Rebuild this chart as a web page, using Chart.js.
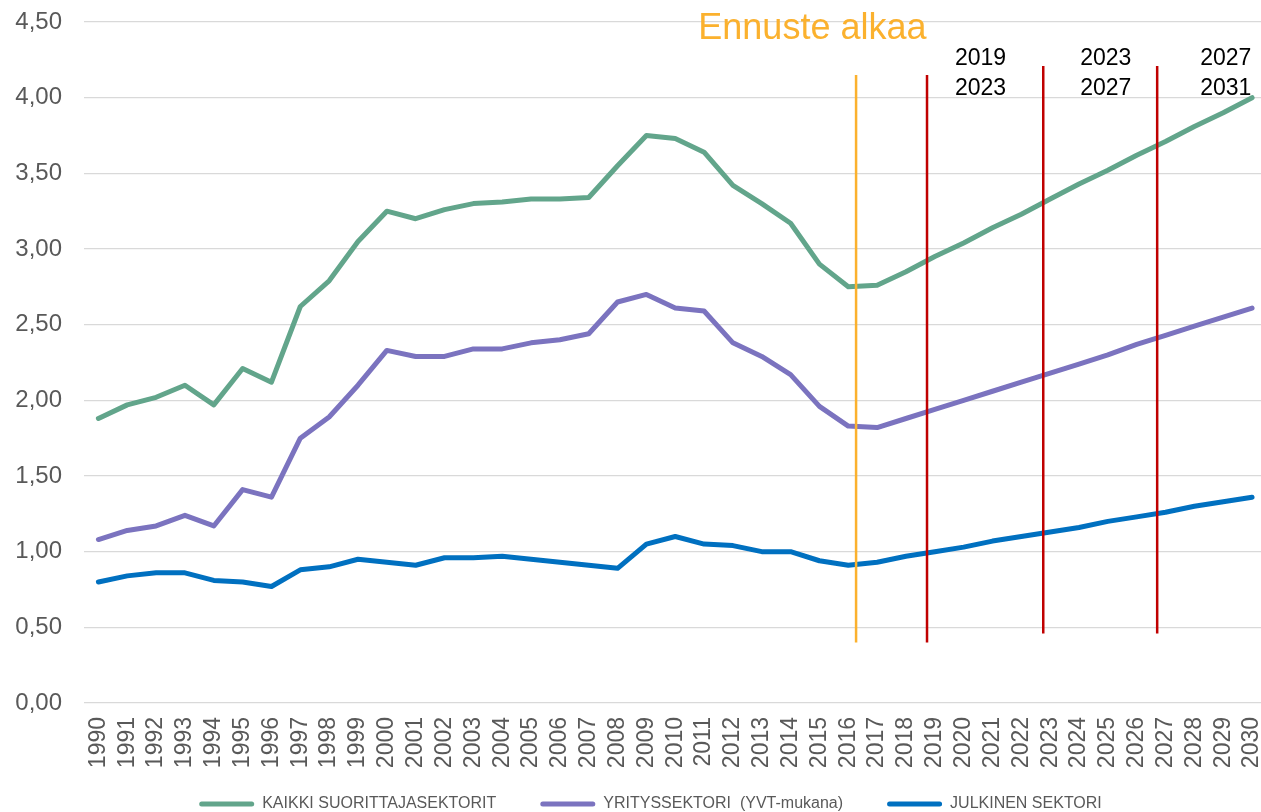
<!DOCTYPE html>
<html lang="fi">
<head>
<meta charset="utf-8">
<title>T&K-menot</title>
<script src="https://cdn.jsdelivr.net/npm/chart.js@4.4.1/dist/chart.umd.min.js"></script>
<style>
    html, body { margin: 0; padding: 0; background: #ffffff; }
    #wrap { width: 1261px; height: 812px; position: relative; }
</style>
</head>
<body>
<div id="wrap"><canvas id="rdChart"></canvas></div>
<script>
// Vuodet (x-akseli)
const years = [];
for (let y = 1990; y <= 2030; y++) years.push(y);

// Sarjat, luettu kuvasta
const kaikkiSektorit = [
    1.88, 1.97, 2.02, 2.10, 1.97, 2.21, 2.12, 2.62, 2.79, 3.05,
    3.25, 3.20, 3.26, 3.30, 3.31, 3.33, 3.33, 3.34, 3.55, 3.75,
    3.73, 3.64, 3.42, 3.30, 3.17, 2.90, 2.75, 2.76, 2.85, 2.95,
    3.04, 3.14, 3.23, 3.33, 3.43, 3.52, 3.62, 3.71, 3.81, 3.90,
    4.00
];
const yrityssektori = [
    1.08, 1.14, 1.17, 1.24, 1.17, 1.41, 1.36, 1.75, 1.89, 2.10,
    2.33, 2.29, 2.29, 2.34, 2.34, 2.38, 2.40, 2.44, 2.65, 2.70,
    2.61, 2.59, 2.38, 2.29, 2.17, 1.96, 1.83, 1.82, 1.88, 1.94,
    2.00, 2.06, 2.12, 2.18, 2.24, 2.30, 2.37, 2.43, 2.49, 2.55,
    2.61
];
const julkinenSektori = [
    0.80, 0.84, 0.86, 0.86, 0.81, 0.80, 0.77, 0.88, 0.90, 0.95,
    0.93, 0.91, 0.96, 0.96, 0.97, 0.95, 0.93, 0.91, 0.89, 1.05,
    1.10, 1.05, 1.04, 1.00, 1.00, 0.94, 0.91, 0.93, 0.97, 1.00,
    1.03, 1.07, 1.10, 1.13, 1.16, 1.20, 1.23, 1.26, 1.30, 1.33,
    1.36
];
const seriesLabels = ['KAIKKI SUORITTAJASEKTORIT', 'YRITYSSEKTORI  (YVT-mukana)', 'JULKINEN SEKTORI'];

// Pystyviivat (ennusteen alku + kausirajat)
const markerYears = [2016.27, 2018.73, 2022.76, 2026.71];
const markerTop = [4.15, 4.15, 4.21, 4.21];
const markerBottom = [0.40, 0.40, 0.46, 0.46];
const periodLabels = [['2019', '2023'], ['2023', '2027'], ['2027', '2031']];
const periodLabelYears = [2019.7, 2024.04, 2028.2];

const colors = ['#62a58b', '#7b73bf', '#0070c0'];
const markerColors = ['#fbb12e', '#c00000', '#c00000', '#c00000'];

Chart.defaults.font.family = "'Liberation Sans', Arial, sans-serif";

const seriesData = [kaikkiSektorit, yrityssektori, julkinenSektori];
const datasets = seriesData.map((vals, i) => ({
    label: seriesLabels[i],
    data: years.map((yr, j) => ({ x: yr, y: vals[j] })),
    borderColor: colors[i],
    backgroundColor: colors[i],
    borderWidth: 5,
    borderCapStyle: 'round',
    borderJoinStyle: 'round',
    pointRadius: 0,
    tension: 0,
    order: 1
}));
markerYears.forEach((yr, i) => {
    datasets.push({
        label: '',
        data: [{ x: yr, y: markerBottom[i] }, { x: yr, y: markerTop[i] }],
        borderColor: markerColors[i],
        backgroundColor: markerColors[i],
        borderWidth: 2.5,
        pointRadius: 0,
        order: 0
    });
});

// Tekstit kaavion päällä
const textPlugin = {
    id: 'textPlugin',
    afterDatasetsDraw(chart) {
        const { ctx, scales: { x, y } } = chart;
        ctx.save();
        ctx.textAlign = 'left';
        ctx.textBaseline = 'alphabetic';
        ctx.fillStyle = '#fbb12e';
        ctx.font = "36px 'Liberation Sans', Arial, sans-serif";
        ctx.fillText('Ennuste alkaa', x.getPixelForValue(2010.8), y.getPixelForValue(4.385));
        ctx.fillStyle = '#000000';
        ctx.font = "23px 'Liberation Sans', Arial, sans-serif";
        periodLabels.forEach((lines, i) => {
            ctx.fillText(lines[0], x.getPixelForValue(periodLabelYears[i]), y.getPixelForValue(4.214));
            ctx.fillText(lines[1], x.getPixelForValue(periodLabelYears[i]), y.getPixelForValue(4.02));
        });
        ctx.restore();
    }
};

// Selite hieman alemmas ja oikealle
const legendShift = {
    id: 'legendShift',
    afterLayout(chart) {
        const lg = chart.legend;
        lg.top -= 23; lg.bottom -= 23;
        lg.left += 20; lg.right += 20;
    }
};

new Chart(document.getElementById('rdChart'), {
    type: 'line',
    data: { datasets: datasets },
    options: {
        responsive: true,
        maintainAspectRatio: false,
        animation: false,
        layout: { padding: { top: 22, bottom: -33, left: 0, right: 0 } },
        scales: {
            x: {
                type: 'linear',
                min: 1989.5,
                max: 2030.31,
                afterBuildTicks: ax => { ax.ticks = years.map(v => ({ value: v })); },
                afterFit: ax => { ax.height = 72; ax.paddingLeft = 0; ax.paddingRight = 0; },
                grid: { display: false },
                border: { display: false },
                ticks: {
                    autoSkip: false,
                    minRotation: 90,
                    maxRotation: 90,
                    padding: 6,
                    color: '#595959',
                    font: { size: 23 },
                    callback: v => String(v)
                }
            },
            y: {
                min: 0,
                max: 4.5,
                afterFit: ax => { ax.width = 84; ax.paddingTop = 0; ax.paddingBottom = 0; },
                grid: { color: '#d9d9d9', lineWidth: 1.3, drawTicks: false },
                border: { display: false },
                ticks: {
                    stepSize: 0.5,
                    padding: 22,
                    color: '#595959',
                    font: { size: 24 },
                    callback: v => v.toFixed(2).replace('.', ',')
                }
            }
        },
        plugins: {
            tooltip: { enabled: false },
            legend: {
                position: 'bottom',
                labels: {
                    boxWidth: 55,
                    boxHeight: 5,
                    useBorderRadius: true,
                    borderRadius: 2.5,
                    padding: 44,
                    color: '#595959',
                    font: { size: 16 },
                    filter: item => item.datasetIndex < 3,
                    generateLabels: chart => Chart.defaults.plugins.legend.labels.generateLabels(chart).map(item => {
                        item.lineWidth = 0;
                        item.fillStyle = item.strokeStyle;
                        return item;
                    })
                }
            }
        }
    },
    plugins: [textPlugin, legendShift]
});
</script>
</body>
</html>
